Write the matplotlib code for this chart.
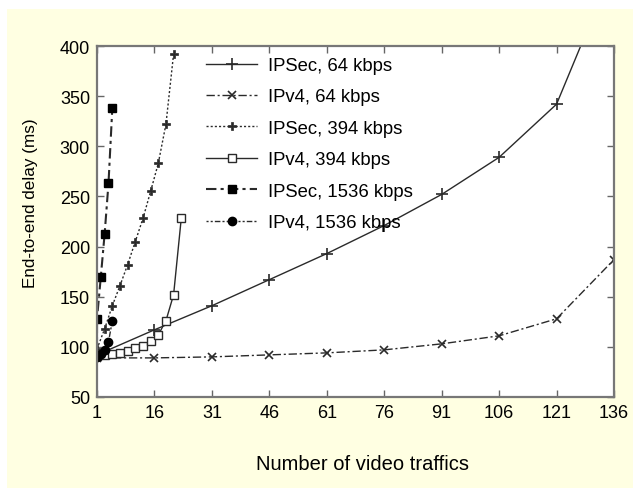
import matplotlib
matplotlib.use("Agg")
import matplotlib.pyplot as plt
from matplotlib.patches import Rectangle

plt.rcParams['font.family'] = ['Liberation Sans', 'DejaVu Sans']

x_ticks = [1, 16, 31, 46, 61, 76, 91, 106, 121, 136]
y_ticks = [50, 100, 150, 200, 250, 300, 350, 400]

ipsec64_x = [1, 16, 31, 46, 61, 76, 91, 106, 121, 136]
ipsec64_y = [92, 117, 141, 167, 193, 221, 252, 289, 342, 480]

ipv464_x = [1, 16, 31, 46, 61, 76, 91, 106, 121, 136]
ipv464_y = [89, 89, 90, 92, 94, 97, 103, 111, 128, 187]

ipsec394_x = [1, 3, 5, 7, 9, 11, 13, 15, 17, 19, 21]
ipsec394_y = [98, 118, 141, 161, 182, 205, 228, 255, 283, 322, 392]

ipv4394_x = [1, 3, 5, 7, 9, 11, 13, 15, 17, 19, 21, 23]
ipv4394_y = [91, 92, 93, 94, 96, 99, 101, 106, 112, 126, 152, 228]

ipsec1536_x = [1, 1, 2, 3, 4, 5]
ipsec1536_y = [92, 128, 170, 213, 263, 338]

ipv41536_x = [1, 2, 3, 4, 5]
ipv41536_y = [90, 93, 97, 105, 126]

labels = ["IPSec, 64 kbps", "IPv4, 64 kbps", "IPSec, 394 kbps",
          "IPv4, 394 kbps", "IPSec, 1536 kbps", "IPv4, 1536 kbps"]

fig = plt.figure(figsize=(6.33, 4.89), dpi=100, facecolor='white')
fig.patches.append(Rectangle((7/633, 0), 1, 1 - 10/489, transform=fig.transFigure,
                             facecolor='#FFFFE2', edgecolor='none', zorder=-10))
ax = fig.add_axes([97/633, 1 - 398/489, (614-97)/633, (398-47)/489])
ax.set_zorder(1)
ax.set_facecolor('white')

lc = '#2a2a2a'
lw = 1.0
ax.plot(ipsec64_x, ipsec64_y, color=lc, lw=lw, ls='-', marker='+', ms=8, mew=1.2, label=labels[0])
ax.plot(ipv464_x, ipv464_y, color=lc, lw=lw, ls=(0, (6, 2, 1.5, 2)), marker='x', ms=5.5, mew=1.2, label=labels[1])
ax.plot(ipsec394_x, ipsec394_y, color=lc, lw=lw, ls=(0, (1.5, 1.5)), marker='P', ms=5.5, mew=0.5, label=labels[2])
ax.plot(ipv4394_x, ipv4394_y, color=lc, lw=lw, ls='-', marker='s', ms=6, mfc='white', mec=lc, mew=1.0, label=labels[3])
ax.plot(ipsec1536_x, ipsec1536_y, color=lc, lw=lw + 0.5, ls=(0, (5, 2, 1.5, 2)), marker='s', ms=6, mfc='black', mec='black', label=labels[4])
ax.plot(ipv41536_x, ipv41536_y, color=lc, lw=lw, ls=(0, (1.5, 1.5, 1.5, 1.5, 4, 1.5)), marker='o', ms=6, mfc='black', mec='black', label=labels[5])

ax.set_xlim(1, 136)
ax.set_ylim(50, 400)
ax.set_xticks(x_ticks)
ax.set_yticks(y_ticks)
ax.tick_params(direction='in', top=True, right=True, length=5, width=1, color='#666666',
               labelsize=13, pad=5)
for s in ax.spines.values():
    s.set_color('#777777')
    s.set_linewidth(1.6)

ax.set_xlabel("Number of video traffics", fontsize=14.5, labelpad=24)
ax.xaxis.label.set_x(0.513)
ax.set_ylabel("End-to-end delay (ms)", fontsize=12.3, labelpad=16)
ax.yaxis.label.set_y(0.556)

leg = ax.legend(loc='upper left', bbox_to_anchor=(0.19, 1.0), frameon=False,
                fontsize=13.3, handlelength=2.75, handletextpad=0.6, labelspacing=0.78,
                borderaxespad=0.2)

fig.savefig("out.png", dpi=100, facecolor=fig.get_facecolor())
